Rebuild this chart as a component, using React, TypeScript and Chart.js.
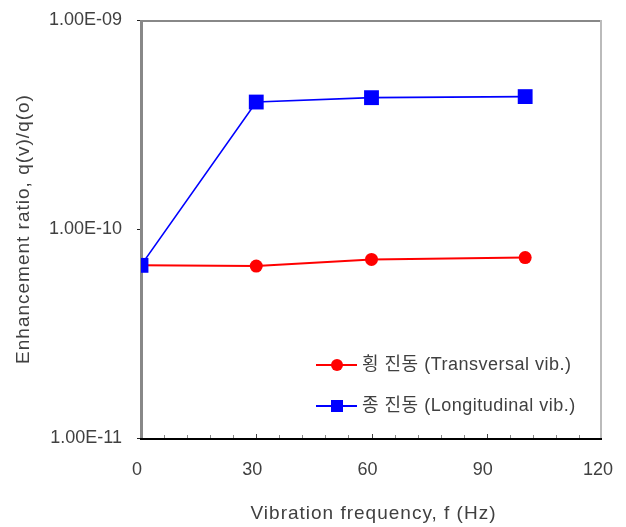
import React, { useEffect, useRef } from "react";
import { Chart, registerables } from "chart.js";

Chart.register(...registerables);

const transversalFreq = [0, 30, 60, 100];
const transversalRatio = [6.7e-11, 6.65e-11, 7.15e-11, 7.3e-11];
const longitudinalFreq = [0, 30, 60, 100];
const longitudinalRatio = [6.7e-11, 4.05e-10, 4.25e-10, 4.3e-10];
const yTicks = [1e-11, 1e-10, 1e-9];
const xTicks = [0, 30, 60, 90, 120];
const legendLabels = ["횡 진동 (Transversal vib.)", "종 진동 (Longitudinal vib.)"];
const xTitle = "Vibration frequency, f (Hz)";
const yTitle = "Enhancement ratio, q(v)/q(o)";

const FONT = '"Liberation Sans", Arial, "Noto Sans CJK KR", sans-serif';
const TEXT = "#404040";

function fmtExp(v: number): string {
  const e = Math.round(Math.log10(v));
  const sign = e < 0 ? "-" : "+";
  const a = Math.abs(e);
  return "1.00E" + sign + (a < 10 ? "0" + a : String(a));
}

const framePlugin = {
  id: "frame",
  beforeDatasetsDraw(chart: any) {
    const { ctx, chartArea } = chart;
    const { left, right, top, bottom } = chartArea;
    const xs = chart.scales.x;
    const ys = chart.scales.y;
    ctx.save();
    for (let v = 6; v < 120; v += 6) {
      const px = Math.round(xs.getPixelForValue(v)) + 0.5;
      const major = v % 30 === 0;
      ctx.strokeStyle = major ? "#444" : "#888";
      ctx.lineWidth = 1;
      ctx.beginPath();
      ctx.moveTo(px, bottom);
      ctx.lineTo(px, bottom - (major ? 4 : 3));
      ctx.stroke();
    }
    ctx.strokeStyle = "#888";
    ctx.lineWidth = 2;
    ctx.beginPath();
    ctx.moveTo(left, top + 1);
    ctx.lineTo(right, top + 1);
    ctx.stroke();
    ctx.strokeStyle = "#bbb";
    ctx.beginPath();
    ctx.moveTo(right - 1, top);
    ctx.lineTo(right - 1, bottom);
    ctx.stroke();
    ctx.strokeStyle = "#888";
    ctx.lineWidth = 3;
    ctx.beginPath();
    ctx.moveTo(left + 0.5, top);
    ctx.lineTo(left + 0.5, bottom);
    ctx.stroke();
    ctx.strokeStyle = "#222";
    ctx.lineWidth = 1;
    for (const t of yTicks) {
      const py = Math.round(ys.getPixelForValue(t)) + 0.5;
      ctx.beginPath();
      ctx.moveTo(left - 4, py);
      ctx.lineTo(left - 1, py);
      ctx.stroke();
    }
    ctx.strokeStyle = "#000";
    ctx.lineWidth = 2;
    ctx.beginPath();
    ctx.moveTo(left - 1, bottom + 1);
    ctx.lineTo(right, bottom + 1);
    ctx.stroke();
    ctx.restore();
  },
  afterDraw(chart: any) {
    const { ctx, chartArea } = chart;
    ctx.save();
    ctx.fillStyle = TEXT;
    ctx.font = "19px " + FONT;
    (ctx as any).letterSpacing = "1px";
    ctx.textBaseline = "middle";
    ctx.textAlign = "center";
    ctx.fillText(xTitle, (chartArea.left + chartArea.right) / 2 + 2, 514);
    ctx.save();
    ctx.translate(24, (chartArea.top + chartArea.bottom) / 2);
    ctx.rotate(-Math.PI / 2);
    ctx.fillText(yTitle, 0, 0);
    ctx.restore();
    const rows = [
      { y: 365, color: "#ff0000", style: "circle" },
      { y: 406, color: "#0000ff", style: "rect" },
    ];
    rows.forEach((r, i) => {
      ctx.strokeStyle = r.color;
      ctx.lineWidth = 2;
      ctx.beginPath();
      ctx.moveTo(316, r.y);
      ctx.lineTo(357, r.y);
      ctx.stroke();
      ctx.fillStyle = r.color;
      if (r.style === "circle") {
        ctx.beginPath();
        ctx.arc(337, r.y, 6, 0, Math.PI * 2);
        ctx.fill();
      } else {
        ctx.fillRect(331, r.y - 6, 12, 12);
      }
      ctx.fillStyle = TEXT;
      ctx.font = "18px " + FONT;
      (ctx as any).letterSpacing = "0.5px";
      ctx.textBaseline = "middle";
      ctx.textAlign = "left";
      ctx.fillText(legendLabels[i], 362, r.y);
    });
    ctx.restore();
  },
};

export default function App() {
  const ref = useRef<HTMLCanvasElement | null>(null);
  useEffect(() => {
    if (!ref.current) return;
    const chart = new Chart(ref.current, {
      type: "scatter",
      data: {
        datasets: [
          {
            label: legendLabels[1],
            data: longitudinalFreq.map((f, i) => ({ x: f, y: longitudinalRatio[i] })),
            showLine: true,
            borderColor: "#0000ff",
            backgroundColor: "#0000ff",
            borderWidth: 1.6,
            pointStyle: "rect",
            pointRadius: 10.5,
            pointHoverRadius: 10.5,
            pointBorderWidth: 0,
            order: 0,
          },
          {
            label: legendLabels[0],
            data: transversalFreq.map((f, i) => ({ x: f, y: transversalRatio[i] })),
            showLine: true,
            borderColor: "#ff0000",
            backgroundColor: "#ff0000",
            borderWidth: 2,
            pointStyle: "circle",
            pointRadius: 6.5,
            pointHoverRadius: 6.5,
            pointBorderWidth: 0,
            order: 1,
          },
        ],
      },
      options: {
        animation: false,
        responsive: false,
        maintainAspectRatio: false,
        layout: { autoPadding: false, padding: { left: 0, top: 20, right: 24, bottom: 0 } },
        plugins: { legend: { display: false }, tooltip: { enabled: false } },
        scales: {
          x: {
            type: "linear",
            min: 0,
            max: 120,
            afterBuildTicks: (s: any) => {
              s.ticks = xTicks.map((v) => ({ value: v }));
            },
            afterFit: (s: any) => {
              s.height = 89;
              s.paddingLeft = 0;
              s.paddingRight = 0;
              s.paddingTop = 0;
              s.paddingBottom = 0;
            },
            grid: { display: false, drawTicks: false },
            border: { display: false },
            ticks: {
              padding: 21,
              labelOffset: -4,
              color: TEXT,
              font: { family: FONT, size: 18 },
              maxRotation: 0,
              autoSkip: false,
              callback: (v: any) => String(v),
            },
            title: { display: false },
          },
          y: {
            type: "logarithmic",
            min: 1e-11,
            max: 1e-9,
            afterBuildTicks: (s: any) => {
              s.ticks = yTicks.map((v) => ({ value: v }));
            },
            afterFit: (s: any) => {
              s.width = 141;
              s.paddingLeft = 0;
              s.paddingRight = 0;
              s.paddingTop = 0;
              s.paddingBottom = 0;
            },
            grid: { display: false, drawTicks: false },
            border: { display: false },
            ticks: {
              padding: 19,
              color: TEXT,
              font: { family: FONT, size: 18 },
              autoSkip: false,
              callback: (v: any) => fmtExp(Number(v)),
            },
            title: { display: false },
          },
        },
      },
      plugins: [framePlugin],
    } as any);
    return () => chart.destroy();
  }, []);
  return (
    <div style={{ position: "fixed", left: 0, top: 0, width: 626, height: 527, background: "#fff" }}>
      <canvas ref={ref} width={626} height={527} style={{ width: 626, height: 527 }} />
    </div>
  );
}
